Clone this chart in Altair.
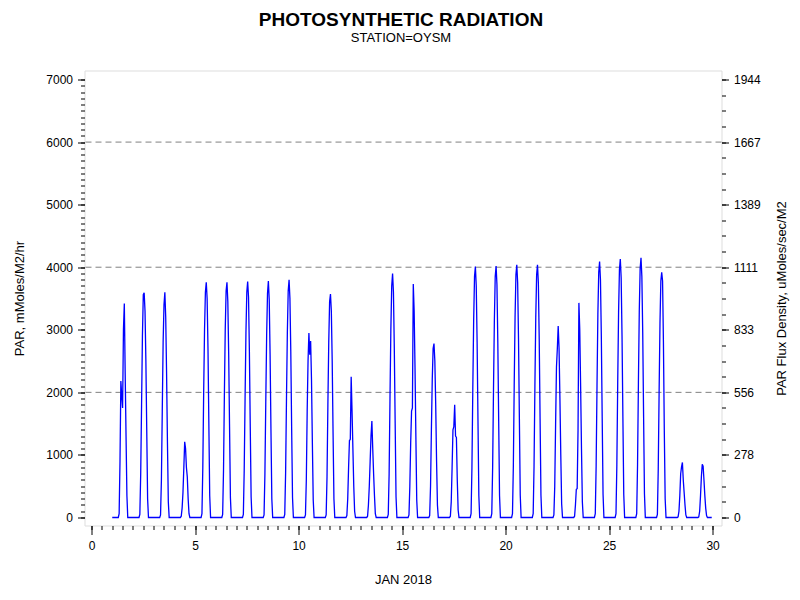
import altair as alt
import pandas as pd

# Daytime hourly PAR values (mMoles/M2/hr) for hours 08..18 of each January day; night hours are 0
day_hours = [8, 9, 10, 11, 12, 13, 14, 15, 16, 17, 18]
daytime = {
    1:  [60, 900, 2180, 1950, 1750, 3000, 3420, 2300, 1300, 350, 0],
    2:  [50, 700, 1800, 2900, 3560, 3590, 3300, 2500, 1400, 300, 0],
    3:  [40, 600, 1700, 2800, 3400, 3600, 3200, 2300, 1200, 250, 0],
    4:  [20, 150, 400, 800, 1210, 1100, 800, 650, 300, 60, 0],
    5:  [60, 800, 2000, 3000, 3600, 3760, 3500, 2700, 1500, 350, 0],
    6:  [50, 750, 1950, 3000, 3620, 3760, 3450, 2600, 1450, 320, 0],
    7:  [50, 760, 1900, 2950, 3600, 3770, 3520, 2650, 1450, 330, 0],
    8:  [40, 700, 1850, 2900, 3580, 3780, 3480, 2600, 1400, 300, 0],
    9:  [50, 720, 1900, 2950, 3620, 3800, 3500, 2650, 1420, 320, 0],
    10: [40, 600, 1700, 2500, 2950, 2600, 2820, 2200, 1200, 280, 0],
    11: [40, 650, 1800, 2800, 3450, 3570, 3300, 2500, 1350, 300, 0],
    12: [30, 300, 800, 1230, 1250, 2250, 1700, 1100, 500, 100, 0],
    13: [20, 200, 500, 900, 1300, 1540, 1100, 700, 350, 60, 0],
    14: [50, 700, 1900, 3000, 3700, 3900, 3600, 2700, 1500, 330, 0],
    15: [40, 500, 1200, 1700, 1750, 3730, 3300, 2400, 1300, 280, 0],
    16: [30, 500, 1400, 2200, 2700, 2780, 2500, 1800, 900, 200, 0],
    17: [20, 250, 800, 1400, 1450, 1800, 1300, 1280, 600, 120, 0],
    18: [60, 800, 2050, 3150, 3850, 4010, 3700, 2800, 1550, 350, 0],
    19: [60, 800, 2050, 3150, 3850, 4020, 3720, 2800, 1550, 350, 0],
    20: [60, 820, 2100, 3200, 3880, 4040, 3750, 2850, 1580, 360, 0],
    21: [60, 820, 2100, 3200, 3880, 4040, 3750, 2850, 1580, 360, 0],
    22: [40, 500, 1500, 2400, 2700, 3060, 2700, 1900, 1000, 220, 0],
    23: [20, 200, 450, 460, 1400, 3430, 3000, 2100, 1100, 250, 0],
    24: [60, 830, 2100, 3250, 3920, 4090, 3800, 2900, 1600, 370, 0],
    25: [60, 840, 2150, 3280, 3960, 4130, 3830, 2900, 1600, 370, 0],
    26: [60, 850, 2150, 3300, 3980, 4150, 3850, 2950, 1620, 380, 0],
    27: [50, 780, 2000, 3100, 3780, 3920, 3780, 2800, 1400, 300, 0],
    28: [10, 100, 350, 700, 810, 880, 600, 400, 200, 40, 0],
    29: [10, 100, 350, 650, 850, 820, 600, 350, 150, 30, 0],
}

x_major = [0, 5, 10, 15, 20, 25, 30]
x_minor = [i / 2 for i in range(0, 61)]
y_major = [0, 1000, 2000, 3000, 4000, 5000, 6000, 7000]
y_minor_left = list(range(0, 7001, 100))
y_minor_right = list(range(0, 7001, 250))
right_labels = ["0", "278", "556", "833", "1111", "1389", "1667", "1944"]
ref_lines = [2000, 4000, 6000]

rows = []
for d in range(1, 30):
    vals = dict(zip(day_hours, daytime[d]))
    for h in range(24):
        rows.append({"t": d + h / 24.0, "par": vals.get(h, 0)})
df = pd.DataFrame(rows)

FONT = "Liberation Sans"
xs = alt.Scale(domain=[-0.34, 30.43], nice=False, zero=False)
ys = alt.Scale(domain=[-128, 7144], nice=False, zero=False)

common_axis = dict(domain=False, grid=False, tickColor="black", labelColor="black",
                   labelFont=FONT, labelFontSize=12, titleFont=FONT, titleFontSize=13,
                   titleFontWeight="normal", titleColor="black")

line = alt.Chart(df).mark_line(color="#0000ff", strokeWidth=1.3).encode(
    x=alt.X("t:Q", scale=xs, axis=alt.Axis(values=x_major, title="JAN 2018", tickSize=9,
                                           labelPadding=6, titlePadding=22, format="d",
                                           **common_axis)),
    y=alt.Y("par:Q", scale=ys, axis=alt.Axis(orient="left", values=y_major,
                                             title="PAR, mMoles/M2/hr", tickSize=7,
                                             labelPadding=5, titlePadding=19, format="d",
                                             **common_axis)),
)

refs = alt.Chart(pd.DataFrame({"v": ref_lines})).mark_rule(
    color="#808080", strokeDash=[6, 4], strokeWidth=1).encode(
    y=alt.Y("v:Q", scale=ys, axis=None))

def tick_layer(vals, axis_kw, which):
    d = pd.DataFrame({"v": vals})
    if which == "x":
        enc = dict(x=alt.X("v:Q", scale=xs, axis=alt.Axis(**axis_kw)),
                   y=alt.Y("v:Q", scale=ys, axis=None))
    else:
        enc = dict(y=alt.Y("v:Q", scale=ys, axis=alt.Axis(**axis_kw)),
                   x=alt.X("v:Q", scale=xs, axis=None))
    return alt.Chart(d).mark_point(opacity=0).encode(**enc)

minor_kw = dict(domain=False, grid=False, labels=False, title=None, tickColor="black", tickSize=4)

x_minor_layer = tick_layer(x_minor, dict(orient="bottom", values=x_minor, **minor_kw), "x")
yl_minor_layer = tick_layer(y_minor_left, dict(orient="left", values=y_minor_left, **minor_kw), "y")
yr_minor_layer = tick_layer(y_minor_right, dict(orient="right", values=y_minor_right, **minor_kw), "y")

label_expr = "[" + ",".join("'%s'" % s for s in right_labels) + "][round(datum.value/1000)]"
yr_major_layer = tick_layer(y_major, dict(orient="right", values=y_major, labelExpr=label_expr,
                                          title="PAR Flux Density, uMoles/sec/M2", tickSize=7,
                                          labelPadding=5, titlePadding=15, titleAngle=270,
                                          titleBaseline="top", **common_axis), "y")

chart = alt.layer(
    refs, line, x_minor_layer, yl_minor_layer, yr_major_layer, yr_minor_layer
).resolve_scale(x="independent", y="independent").properties(
    width=637, height=455,
    title=alt.TitleParams(text="PHOTOSYNTHETIC RADIATION", subtitle="STATION=OYSM",
                          font=FONT, fontSize=19, fontWeight="bold", color="black",
                          subtitleFont=FONT, subtitleFontSize=13, subtitleColor="black",
                          subtitlePadding=2, anchor="middle", offset=26, dx=-2),
    autosize=alt.AutoSizeParams(type="none"),
    padding={"left": 76.5, "top": 62.5, "right": 70.5, "bottom": 66.5},
).configure_view(stroke="black", strokeWidth=1).configure(background="white")

chart.save("out.html", embed_options={"renderer": "svg", "actions": False})
